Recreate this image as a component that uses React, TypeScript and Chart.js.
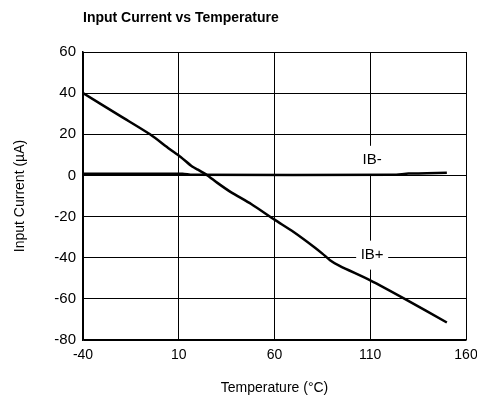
import React, { useEffect, useRef } from "react";
import { Chart, registerables } from "chart.js";

Chart.register(...registerables);

const FONT = "'Liberation Sans', Arial, sans-serif";

const ibPlusTemps = [-40, -20, -5, 5, 11, 17, 20, 25, 30, 37, 48, 60, 70, 81, 85, 89, 94, 110, 128, 150];
const ibPlusValues = [40, 28.6, 20, 13, 9, 4.3, 2.8, 0, -3.5, -8, -14, -21.5, -27.5, -35, -38, -41.2, -44, -51, -60, -71.5];

const ibMinusTemps = [-40, 12, 17, 122, 130, 150];
const ibMinusValues = [0.8, 0.8, 0.3, 0.3, 0.9, 1.3];

const xTicks = [-40, 10, 60, 110, 160];
const yTicks = [-80, -60, -40, -20, 0, 20, 40, 60];

const labels = [
  { text: "IB-", x: 111, y: 7.6 },
  { text: "IB+", x: 111, y: -38.5 },
];

const titleText = "Input Current vs Temperature";

export default function App() {
  const ref = useRef<HTMLCanvasElement | null>(null);

  useEffect(() => {
    document.body.style.margin = "0";
    const canvas = ref.current!;
    const labelPlugin = {
      id: "curveLabels",
      beforeDatasetsDraw(chart: any) {
        const ctx = chart.ctx;
        const xs = chart.scales.x;
        const ys = chart.scales.y;
        ctx.save();
        ctx.font = `15px ${FONT}`;
        ctx.textAlign = "center";
        ctx.textBaseline = "middle";
        for (const l of labels) {
          const px = xs.getPixelForValue(l.x);
          const py = ys.getPixelForValue(l.y);
          ctx.fillStyle = "#fff";
          ctx.fillRect(px - 16, py - 14, 32, 29);
          ctx.fillStyle = "#000";
          ctx.fillText(l.text, px, py);
        }
        ctx.restore();
      },
      afterDraw(chart: any) {
        const ctx = chart.ctx;
        ctx.save();
        ctx.font = `bold 14px ${FONT}`;
        ctx.fillStyle = "#000";
        ctx.textAlign = "left";
        ctx.textBaseline = "alphabetic";
        ctx.fillText(titleText, chart.chartArea.left, 22);
        ctx.restore();
      },
    };

    const chart = new Chart(canvas, {
      type: "scatter",
      data: {
        datasets: [
          {
            label: "IB+",
            data: ibPlusTemps.map((t, i) => ({ x: t, y: ibPlusValues[i] })),
            showLine: true,
            borderColor: "#000",
            borderWidth: 2.5,
            pointRadius: 0,
            tension: 0.25,
          },
          {
            label: "IB-",
            data: ibMinusTemps.map((t, i) => ({ x: t, y: ibMinusValues[i] })),
            showLine: true,
            borderColor: "#000",
            borderWidth: 2.5,
            pointRadius: 0,
            tension: 0.2,
          },
        ],
      },
      plugins: [labelPlugin],
      options: {
        animation: false,
        responsive: false,
        devicePixelRatio: 1,
        layout: { padding: { left: 0, top: 52, right: 11, bottom: 0 } },
        plugins: {
          legend: { display: false },
          tooltip: { enabled: false },
          title: { display: false },
        },
        scales: {
          x: {
            type: "linear",
            min: -40,
            max: 160,
            afterBuildTicks: (s: any) => {
              s.ticks = xTicks.map((v) => ({ value: v }));
            },
            afterFit: (s: any) => {
              s.height = 61;
              s.paddingLeft = 0;
              s.paddingRight = 0;
            },
            grid: { color: "#000", lineWidth: 1, drawTicks: false },
            border: { color: "#000", width: 1.5 },
            ticks: { color: "#000", font: { family: FONT, size: 14 }, padding: 7, maxRotation: 0 },
            title: {
              display: true,
              text: "Temperature (°C)",
              color: "#000",
              font: { family: FONT, size: 14 },
              padding: { top: 0, bottom: 4.5 },
            },
          },
          y: {
            type: "linear",
            min: -80,
            max: 60,
            afterBuildTicks: (s: any) => {
              s.ticks = yTicks.map((v) => ({ value: v }));
            },
            afterFit: (s: any) => {
              s.width = 83;
              s.paddingTop = 0;
              s.paddingBottom = 0;
            },
            grid: { color: "#000", lineWidth: 1, drawTicks: false },
            border: { color: "#000", width: 1.5 },
            ticks: { color: "#000", font: { family: FONT, size: 15 }, padding: 7 },
            title: {
              display: true,
              text: "Input Current (µA)",
              color: "#000",
              font: { family: FONT, size: 14 },
              padding: { top: 12, bottom: 0 },
            },
          },
        },
      },
    });
    return () => chart.destroy();
  }, []);

  return <canvas ref={ref} width={477} height={401} style={{ display: "block" }} />;
}
